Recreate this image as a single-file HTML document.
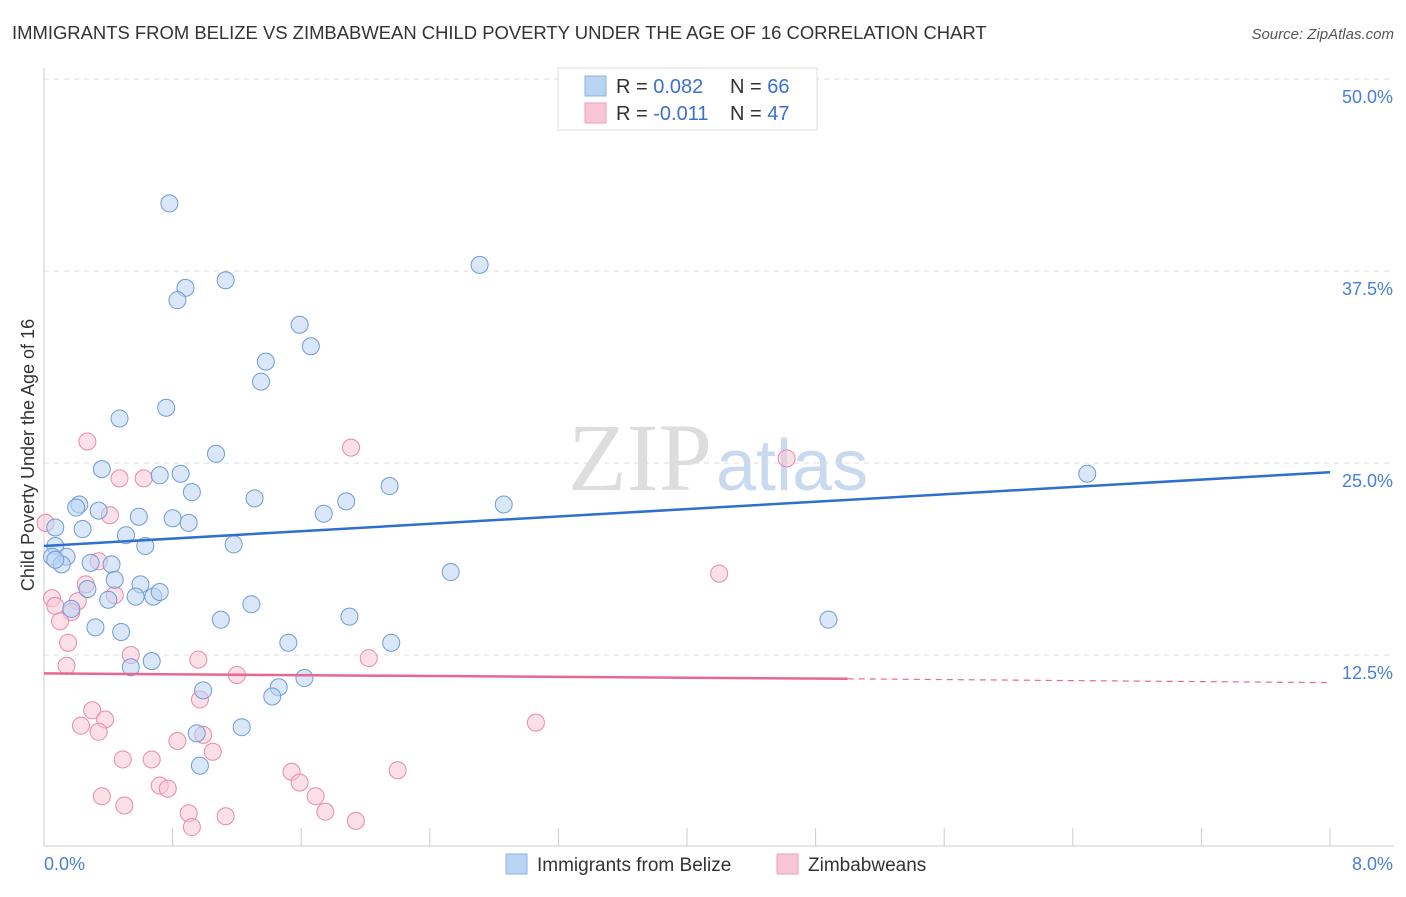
<!DOCTYPE html>
<html><head><meta charset="utf-8"><style>
body{margin:0;background:#fff;font-family:"Liberation Sans",sans-serif;}
</style></head><body>
<svg id="c" width="1406" height="892" xmlns="http://www.w3.org/2000/svg">
<text x="12" y="39" font-size="18.45" fill="#333">IMMIGRANTS FROM BELIZE VS ZIMBABWEAN CHILD POVERTY UNDER THE AGE OF 16 CORRELATION CHART</text>
<text x="1394" y="39" font-size="15" fill="#555" font-style="italic" text-anchor="end">Source: ZipAtlas.com</text>
<text x="712" y="490" font-size="96" fill="#ddd" text-anchor="end" font-family="Liberation Serif">ZIP</text>
<text x="716" y="490" font-size="72" fill="#c9daf0">atlas</text>
<g id="grid"></g>
<g id="marks"></g>
<text transform="translate(34,455) rotate(-90)" font-size="18" fill="#333" text-anchor="middle">Child Poverty Under the Age of 16</text>
<text x="44" y="870" font-size="18" fill="#4a7fd6">0.0%</text>
<text x="1393" y="870" font-size="18" fill="#4a7fd6" text-anchor="end">8.0%</text>
<g>
<rect x="558" y="68" width="259" height="62" fill="#fff" stroke="#ddd"/>
<rect x="585" y="76" width="21" height="20" fill="#b9d3f3" stroke="#8fb3e3"/>
<rect x="585" y="103" width="21" height="20" fill="#f9c6d5" stroke="#eda0b8"/>
<text x="616" y="93" font-size="20" fill="#333">R = <tspan fill="#3a70d0"> 0.082</tspan><tspan x="730">N = </tspan><tspan fill="#3a70d0">66</tspan></text>
<text x="616" y="120" font-size="20" fill="#333">R = <tspan fill="#3a70d0">-0.011</tspan><tspan x="730">N = </tspan><tspan fill="#3a70d0">47</tspan></text>
</g>
<g>
<rect x="506" y="854" width="21" height="20" fill="#b9d3f3" stroke="#8fb3e3"/>
<text x="537" y="871" font-size="19" fill="#333">Immigrants from Belize</text>
<rect x="777" y="854" width="21" height="20" fill="#f9c6d5" stroke="#eda0b8"/>
<text x="808" y="871" font-size="19" fill="#333">Zimbabweans</text>
</g>
</svg>
<script>
const yTicks=[12.5,25,37.5,50];
const xTicks=[0,0.8,1.6,2.4,3.2,4.0,4.8,5.6,6.4,7.2,8.0];
const blueX=[0.78,0.88,0.83,1.13,2.71,1.59,1.66,1.38,1.35,0.76,0.47,1.07,0.36,0.72,0.85,0.92,1.31,1.88,2.15,0.22,0.2,0.34,0.59,0.8,0.9,1.74,2.86,6.49,0.24,0.07,0.51,0.63,1.18,0.07,0.14,0.05,0.11,0.29,0.42,0.44,0.6,0.27,0.57,0.68,0.72,0.4,1.29,0.17,1.1,1.9,4.88,2.53,0.32,0.48,1.52,2.16,0.67,0.54,1.62,1.46,0.99,1.42,0.95,1.23,0.97,0.07];
const blueY=[41.9,36.4,35.6,36.9,37.9,34.0,32.6,31.6,30.3,28.6,27.9,25.6,24.6,24.2,24.3,23.1,22.7,22.5,23.5,22.3,22.1,21.9,21.5,21.4,21.1,21.7,22.3,24.3,20.7,20.8,20.3,19.6,19.7,19.6,18.9,18.9,18.4,18.5,18.4,17.4,17.1,16.8,16.3,16.3,16.6,16.1,15.8,15.5,14.8,15.0,14.8,17.9,14.3,14.0,13.3,13.3,12.1,11.7,11.0,10.4,10.2,9.8,7.4,7.8,5.3,18.7];
const pinkX=[0.27,1.91,4.62,0.47,0.62,0.41,0.01,0.34,0.26,0.44,0.21,0.05,0.07,0.17,0.1,0.15,0.14,0.54,0.96,1.2,4.2,2.02,0.97,0.3,0.23,0.38,0.34,0.83,0.99,1.05,0.49,0.67,3.06,2.2,1.54,1.59,0.72,0.77,0.36,0.5,1.69,0.9,1.13,1.75,1.94,0.92];
const pinkY=[26.4,26.0,25.3,24.0,24.0,21.6,21.1,18.6,17.1,16.4,16.0,16.2,15.7,15.3,14.7,13.3,11.8,12.5,12.2,11.2,17.8,12.3,9.6,8.9,7.9,8.3,7.5,6.9,7.3,6.2,5.7,5.7,8.1,5.0,4.9,4.2,4.0,3.8,3.3,2.7,3.3,2.2,2.0,2.3,1.7,1.3];
const NS="http://www.w3.org/2000/svg";
const X=v=>44+v/8*1286, Y=v=>847-v*15.36;
const grid=document.getElementById('grid'), marks=document.getElementById('marks');
function mk(tag,attrs,parent){const e=document.createElementNS(NS,tag);for(const k in attrs)e.setAttribute(k,attrs[k]);parent.appendChild(e);return e;}
yTicks.forEach(t=>{
 const l=mk('line',{x1:44,x2:1394,y1:Y(t),y2:Y(t),stroke:'#ddd','stroke-dasharray':'5,5'},grid);
 
 
 const tx=mk('text',{x:1393,y:Y(t)+24,'font-size':18,fill:'#4a7fd6','text-anchor':'end'},grid);
 tx.textContent=t.toFixed(1)+'%';
 
 
});
mk('line',{x1:44,x2:44,y1:68,y2:846,stroke:'#ccc'},grid);
mk('line',{x1:44,x2:1394,y1:846,y2:846,stroke:'#ccc'},grid);
xTicks.forEach(t=>{const l=mk('line',{x1:X(t),x2:X(t),y1:828,y2:846,stroke:'#ccc'},grid);
 
 });
function dots(xs,ys,fill,stroke,name){xs.forEach((x,i)=>{
 const c=mk('circle',{cx:X(x),cy:Y(ys[i]),r:8.5,fill:fill,'fill-opacity':0.55,stroke:stroke,'stroke-width':1},marks);
 
 });}
dots(pinkX,pinkY,'#f9c6d5','#e88aa8','zimbabwean-point');
dots(blueX,blueY,'#b9d3f3','#6f9bd8','belize-point');
const bl=mk('line',{x1:X(0),y1:Y(19.6),x2:X(8),y2:Y(24.4),stroke:'#2f6fd0','stroke-width':2.5},marks);


const pl=mk('line',{x1:X(0),y1:Y(11.3),x2:X(5),y2:Y(10.95),stroke:'#e86890','stroke-width':2.5},marks);


const pd=mk('line',{x1:X(5),y1:Y(10.95),x2:X(8),y2:Y(10.7),stroke:'#e86890','stroke-width':1.2,'stroke-dasharray':'6,5'},marks);


</script>
</body></html>
